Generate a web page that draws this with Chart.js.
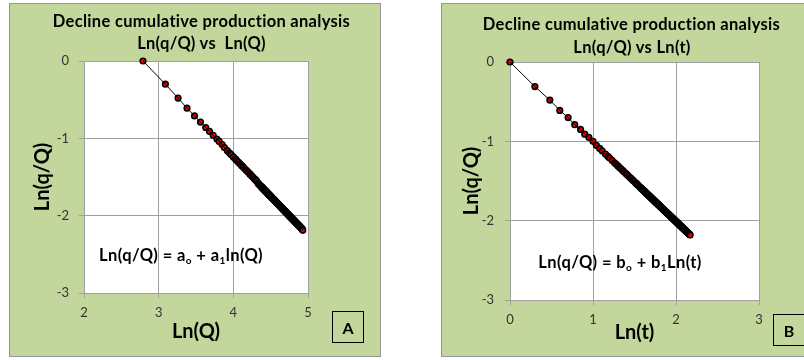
<!DOCTYPE html>
<html>
<head>
<meta charset="utf-8">
<script src="https://cdn.jsdelivr.net/npm/chart.js@4/dist/chart.umd.min.js"></script>
<style>
  html, body { margin: 0; padding: 0; width: 804px; height: 360px; overflow: hidden; background: #fff; }
  .panel { position: absolute; top: 3px; width: 370px; height: 352px; border: 1px solid #959595; background: #c3d69b; }
  .panel canvas { position: absolute; left: 0; top: 0; }
  .ttl { position: absolute; font-family: Lato, sans-serif; font-weight: bold; font-size: 16.5px; letter-spacing: 0.3px; color: #000; white-space: nowrap; transform: translate(-50%, -50%); }
  .eq { position: absolute; font-family: Lato, sans-serif; font-weight: bold; font-size: 16.5px; letter-spacing: 0.4px; color: #000; white-space: nowrap; transform: translate(-50%, -50%); }
  .eq sub { font-size: 10px; vertical-align: -3px; }
  .tag { position: absolute; width: 30px; height: 30px; border: 1px solid #000; font: bold 16px Lato, sans-serif; display: flex; align-items: center; justify-content: center; }
</style>
</head>
<body>
<div class="panel" style="left:9px">
  <canvas id="chartA" width="370" height="352"></canvas>
  <div class="ttl" style="left:191.5px; top:17px">Decline cumulative production analysis</div>
  <div class="ttl" style="left:191.5px; top:39px">Ln(q/Q) vs&nbsp; Ln(Q)</div>
  <div class="eq" style="left:171px; top:251px">Ln(q/Q) = a<sub>o</sub> + a<sub>1</sub>ln(Q)</div>
  <div class="tag" style="left:322px; top:307px">A</div>
</div>
<div class="panel" style="left:441px">
  <canvas id="chartB" width="370" height="352"></canvas>
  <div class="ttl" style="left:189.5px; top:20px">Decline cumulative production analysis</div>
  <div class="ttl" style="left:190px; top:42.5px">Ln(q/Q) vs Ln(t)</div>
  <div class="eq" style="left:178px; top:258px">Ln(q/Q) = b<sub>o</sub> + b<sub>1</sub>Ln(t)</div>
  <div class="tag" style="left:331px; top:310px">B</div>
</div>
<script>
// chart A: Ln(q/Q) against Ln(Q)
const lnQ = [2.79, 3.09, 3.26, 3.38, 3.48, 3.56, 3.63, 3.68, 3.73, 3.78,
  3.81, 3.85, 3.88, 3.92, 3.95, 3.97, 4.00, 4.03, 4.05, 4.07,
  4.09, 4.11, 4.13, 4.15, 4.17, 4.18, 4.20, 4.22, 4.23, 4.25,
  4.26, 4.28, 4.29, 4.30, 4.31, 4.33, 4.34, 4.35, 4.36, 4.37,
  4.375, 4.38, 4.385, 4.39, 4.395, 4.40, 4.405, 4.41, 4.415, 4.42,
  4.425, 4.43, 4.435, 4.44, 4.445, 4.45, 4.455, 4.46, 4.465, 4.47,
  4.475, 4.48, 4.485, 4.49, 4.495, 4.50, 4.505, 4.51, 4.515, 4.52,
  4.525, 4.53, 4.535, 4.54, 4.545, 4.55, 4.555, 4.56, 4.565, 4.57,
  4.575, 4.58, 4.585, 4.59, 4.595, 4.60, 4.605, 4.61, 4.615, 4.62,
  4.625, 4.63, 4.635, 4.64, 4.645, 4.65, 4.655, 4.66, 4.665, 4.67,
  4.675, 4.68, 4.685, 4.69, 4.695, 4.70, 4.705, 4.71, 4.715, 4.72,
  4.725, 4.73, 4.735, 4.74, 4.745, 4.75, 4.755, 4.76, 4.765, 4.77,
  4.775, 4.78, 4.785, 4.79, 4.795, 4.80, 4.805, 4.81, 4.815, 4.82,
  4.825, 4.83, 4.835, 4.84, 4.845, 4.85, 4.855, 4.86, 4.865, 4.87,
  4.875, 4.88, 4.885, 4.89, 4.895, 4.90, 4.905, 4.91, 4.915, 4.92,
  4.925, 4.93];
const lnqQ_A = [0, -0.30, -0.48, -0.61, -0.71, -0.79, -0.86, -0.91, -0.96, -1.01,
  -1.04, -1.08, -1.12, -1.16, -1.19, -1.21, -1.24, -1.27, -1.29, -1.31,
  -1.33, -1.35, -1.37, -1.39, -1.41, -1.42, -1.44, -1.46, -1.47, -1.49,
  -1.50, -1.52, -1.53, -1.54, -1.55, -1.58, -1.59, -1.60, -1.61, -1.62,
  -1.625, -1.63, -1.635, -1.64, -1.645, -1.65, -1.655, -1.66, -1.665, -1.67,
  -1.675, -1.68, -1.685, -1.69, -1.695, -1.70, -1.705, -1.71, -1.715, -1.72,
  -1.725, -1.73, -1.735, -1.74, -1.745, -1.75, -1.755, -1.76, -1.765, -1.77,
  -1.775, -1.78, -1.785, -1.79, -1.795, -1.80, -1.805, -1.81, -1.815, -1.82,
  -1.825, -1.83, -1.835, -1.84, -1.845, -1.85, -1.855, -1.86, -1.865, -1.87,
  -1.875, -1.88, -1.885, -1.89, -1.895, -1.90, -1.905, -1.91, -1.915, -1.92,
  -1.925, -1.93, -1.935, -1.94, -1.945, -1.95, -1.955, -1.96, -1.965, -1.97,
  -1.975, -1.98, -1.985, -1.99, -1.995, -2.00, -2.005, -2.01, -2.015, -2.02,
  -2.025, -2.03, -2.035, -2.04, -2.045, -2.05, -2.055, -2.06, -2.065, -2.07,
  -2.075, -2.08, -2.085, -2.09, -2.095, -2.10, -2.105, -2.11, -2.115, -2.12,
  -2.125, -2.13, -2.135, -2.14, -2.145, -2.15, -2.155, -2.16, -2.165, -2.17,
  -2.175, -2.19];

// chart B: Ln(q/Q) against Ln(t)
const lnt = [0, 0.30, 0.48, 0.60, 0.70, 0.78, 0.85, 0.90, 0.95, 1.00,
  1.04, 1.08, 1.11, 1.15, 1.18, 1.20, 1.23, 1.26, 1.28, 1.30,
  1.32, 1.34, 1.36, 1.38, 1.40, 1.41, 1.43, 1.45, 1.46, 1.48,
  1.49, 1.51, 1.52, 1.53, 1.54, 1.56, 1.57, 1.58, 1.59, 1.60,
  1.605, 1.61, 1.615, 1.62, 1.625, 1.63, 1.635, 1.64, 1.645, 1.65,
  1.655, 1.66, 1.665, 1.67, 1.675, 1.68, 1.685, 1.69, 1.695, 1.70,
  1.705, 1.71, 1.715, 1.72, 1.725, 1.73, 1.735, 1.74, 1.745, 1.75,
  1.755, 1.76, 1.765, 1.77, 1.775, 1.78, 1.785, 1.79, 1.795, 1.80,
  1.805, 1.81, 1.815, 1.82, 1.825, 1.83, 1.835, 1.84, 1.845, 1.85,
  1.855, 1.86, 1.865, 1.87, 1.875, 1.88, 1.885, 1.89, 1.895, 1.90,
  1.905, 1.91, 1.915, 1.92, 1.925, 1.93, 1.935, 1.94, 1.945, 1.95,
  1.955, 1.96, 1.965, 1.97, 1.975, 1.98, 1.985, 1.99, 1.995, 2.00,
  2.005, 2.01, 2.015, 2.02, 2.025, 2.03, 2.035, 2.04, 2.045, 2.05,
  2.055, 2.06, 2.065, 2.07, 2.075, 2.08, 2.085, 2.09, 2.095, 2.10,
  2.105, 2.11, 2.115, 2.12, 2.125, 2.13, 2.135, 2.14, 2.145, 2.15,
  2.155, 2.16, 2.165, 2.17];
const lnqQ_B = [0, -0.31, -0.48, -0.61, -0.70, -0.79, -0.85, -0.91, -0.95, -1.00,
  -1.05, -1.09, -1.12, -1.16, -1.19, -1.21, -1.24, -1.27, -1.29, -1.31,
  -1.33, -1.35, -1.37, -1.39, -1.41, -1.42, -1.44, -1.46, -1.47, -1.49,
  -1.50, -1.52, -1.53, -1.54, -1.55, -1.57, -1.58, -1.59, -1.60, -1.61,
  -1.615, -1.62, -1.625, -1.63, -1.635, -1.64, -1.645, -1.65, -1.655, -1.66,
  -1.665, -1.67, -1.675, -1.68, -1.685, -1.69, -1.695, -1.70, -1.705, -1.71,
  -1.715, -1.72, -1.725, -1.73, -1.735, -1.74, -1.745, -1.75, -1.755, -1.76,
  -1.765, -1.77, -1.775, -1.78, -1.785, -1.79, -1.795, -1.80, -1.805, -1.81,
  -1.815, -1.82, -1.825, -1.83, -1.835, -1.84, -1.845, -1.85, -1.855, -1.86,
  -1.865, -1.87, -1.875, -1.88, -1.885, -1.89, -1.895, -1.90, -1.905, -1.91,
  -1.915, -1.92, -1.925, -1.93, -1.935, -1.94, -1.945, -1.95, -1.955, -1.96,
  -1.965, -1.97, -1.975, -1.98, -1.985, -1.99, -1.995, -2.00, -2.005, -2.01,
  -2.015, -2.02, -2.025, -2.03, -2.035, -2.04, -2.045, -2.05, -2.055, -2.06,
  -2.065, -2.07, -2.075, -2.08, -2.085, -2.09, -2.095, -2.10, -2.105, -2.11,
  -2.115, -2.12, -2.125, -2.13, -2.135, -2.14, -2.145, -2.15, -2.155, -2.16,
  -2.165, -2.17, -2.175, -2.18];

const plotBg = {
  id: 'plotBg',
  beforeDraw(chart) {
    const { ctx, chartArea: a } = chart;
    ctx.save();
    ctx.fillStyle = '#fff';
    ctx.fillRect(a.left, a.top, a.width, a.height);
    ctx.restore();
  }
};

const GRID = '#a0a0a0';
const tickFont = { family: 'Lato', size: 13 };
const titleFont = { family: 'Lato', size: 20, weight: 'bold' };

function lnChart(id, xs, ys, o) {
  const pts = xs.map((x, i) => ({ x, y: ys[i] }));
  return new Chart(document.getElementById(id), {
    type: 'scatter',
    data: { datasets: [
      // connecting line, drawn above the markers like the Excel original
      { data: pts, showLine: true, borderColor: '#000', borderWidth: 1, pointRadius: 0, order: 0, clip: false },
      { data: pts, showLine: false, pointRadius: 2.8, pointBorderWidth: 1.6,
        pointBackgroundColor: '#ff0000', pointBorderColor: '#000', order: 1, clip: false }
    ] },
    options: {
      responsive: false, animation: false, events: [],
      layout: { padding: o.pad },
      plugins: { legend: { display: false }, tooltip: { enabled: false } },
      scales: {
        x: {
          type: 'linear', min: o.xMin, max: o.xMax,
          afterFit: s => { s.height = o.xh; },
          ticks: { stepSize: 1, padding: 7, color: '#333', font: tickFont },
          grid: { color: GRID, tickLength: 5 },
          border: { color: GRID },
          title: { display: true, text: o.xTitle, color: '#000', font: titleFont, padding: 0 }
        },
        y: {
          min: -3, max: 0,
          afterFit: s => { s.width = o.yw; },
          ticks: { stepSize: 1, padding: o.yPad, color: '#333', font: tickFont },
          grid: { color: GRID, tickLength: 5 },
          border: { color: GRID },
          title: { display: true, text: 'Ln(q/Q)', color: '#000', font: titleFont, padding: 0 }
        }
      }
    },
    plugins: [plotBg]
  });
}

lnChart('chartA', lnQ, lnqQ_A, {
  xMin: 2, xMax: 5, xTitle: 'Ln(Q)',
  pad: { left: 21, right: 72, top: 57, bottom: 12 },
  yw: 53, xh: 51, yPad: 10
});
lnChart('chartB', lnt, lnqQ_B, {
  xMin: 0, xMax: 3, xTitle: 'Ln(t)',
  pad: { left: 17.5, right: 53, top: 58, bottom: 11 },
  yw: 50.5, xh: 45, yPad: 11
});
</script>
</body>
</html>
